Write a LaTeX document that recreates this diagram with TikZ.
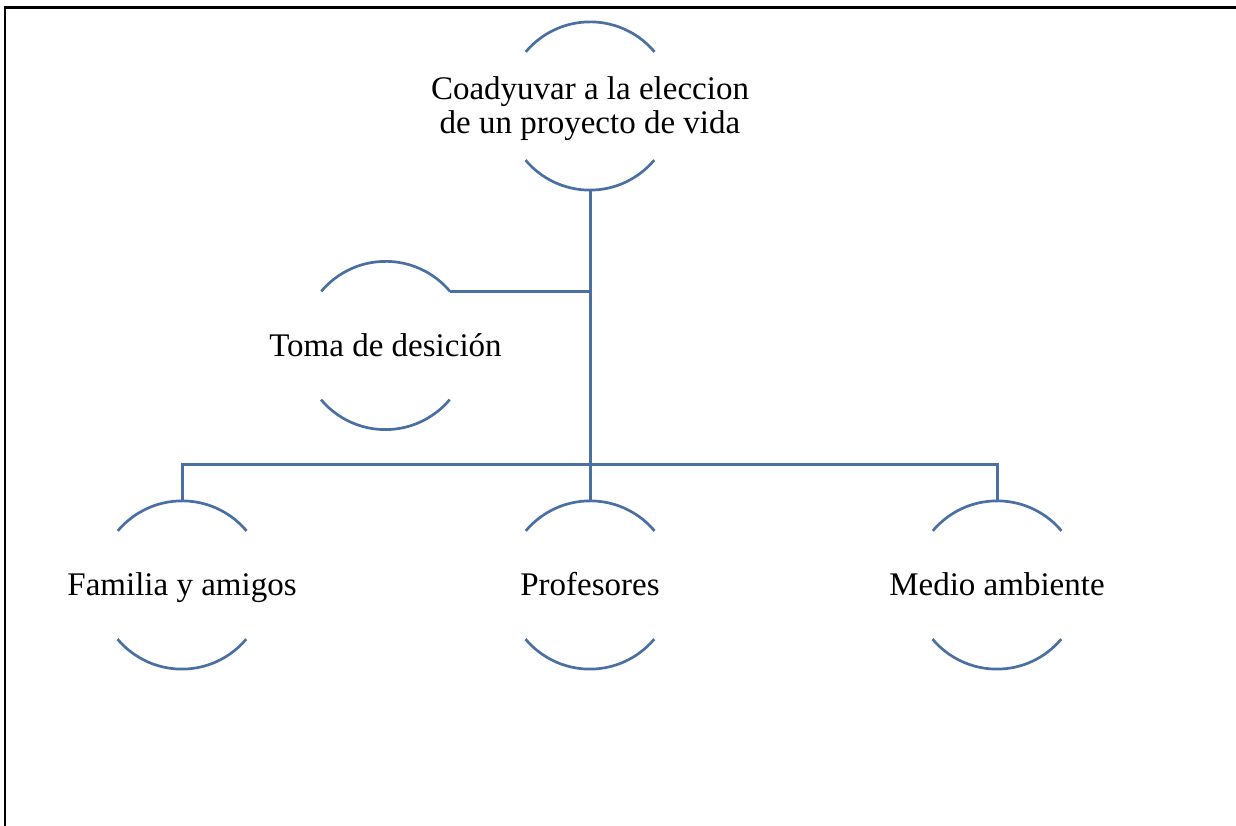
\documentclass[tikz,border=0pt]{standalone}
\usepackage{fontspec}
\setmainfont{Liberation Serif}
\usepackage{tikz}
\definecolor{lineblue}{RGB}{74,112,163}
\tikzset{
        ring/.style = {circle, minimum size=168pt, inner sep=0pt, draw=none},
        itemtext/.style = {align=center, inner sep=0pt, text=black,
            font=\fontsize{33pt}{34pt}\selectfont},
        oneline/.style = {itemtext, text height=22pt, text depth=0pt},
        arcline/.style = {draw=lineblue, line width=2.7pt},
        link/.style = {draw=lineblue, line width=3pt}
    }

\begin{document}
\begin{tikzpicture}[x=1pt,y=1pt]
    \useasboundingbox (0,0) rectangle (1236,826);
    % page frame
    \draw [line width=2.6pt] (1236,818.5) -- (5,818.5) -- (5,0);
    % rings
    \node [ring, label={[itemtext, yshift=-3pt]center:Coadyuvar a la eleccion\\de un proyecto de vida}] (root) at (590,720) {};
    \node [ring, label={[oneline]center:Toma de desición}] (toma) at (385.5,480.5) {};
    \node [ring, label={[oneline]center:Familia y amigos}] (fam) at (182,241) {};
    \node [ring, label={[oneline]center:Profesores}] (prof) at (590,241) {};
    \node [ring, label={[oneline]center:Medio ambiente}] (medio) at (997,241) {};
    \foreach \n in {root,toma,fam,prof,medio} {
        \draw [arcline] (\n.40) arc[start angle=40, end angle=140, radius=84pt];
        \draw [arcline] (\n.220) arc[start angle=220, end angle=320, radius=84pt];
    }
    % connectors
    \coordinate (bus) at (590,361.5);
    \draw [link] (root.south) -- (prof.north);
    \draw [link] (toma.40) -- (toma.40 -| root.south);
    \draw [link] (fam.north) |- (bus) -| (medio.north);
\end{tikzpicture}
\end{document}
